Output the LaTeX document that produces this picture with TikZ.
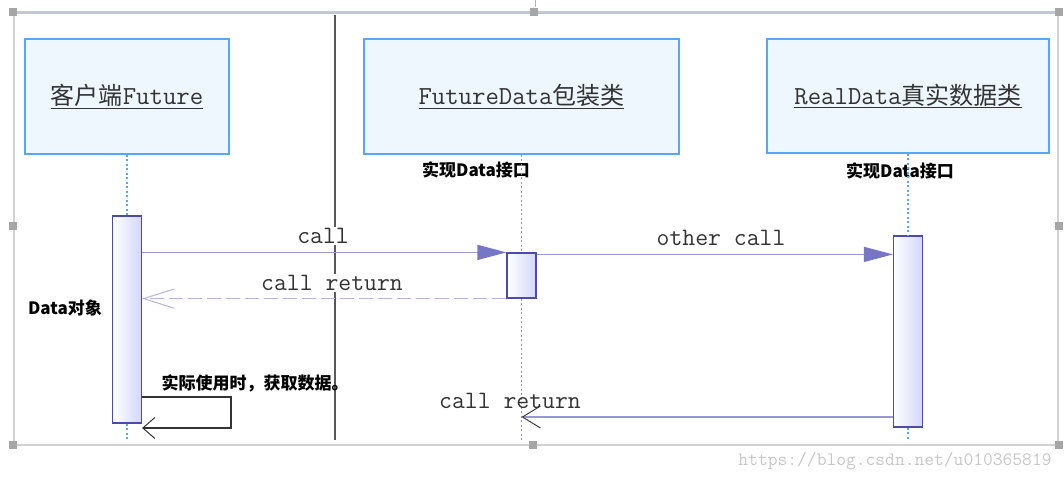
\documentclass[tikz,border=0pt]{standalone}
\usepackage{fontspec}
\newfontfamily\cjk{Noto Sans CJK SC}
\usetikzlibrary{arrows.meta, positioning}

\definecolor{boxline}{HTML}{55A8F5}
\definecolor{boxfill}{HTML}{EEF7FD}
\definecolor{barline}{HTML}{4B4BAA}
\definecolor{barfill}{HTML}{D3D6FA}
\definecolor{callline}{HTML}{9898D8}
\definecolor{headfill}{HTML}{7676C4}
\definecolor{replyline}{HTML}{B4B4E2}
\definecolor{frameline}{HTML}{D2D2D2}
\definecolor{frametop}{HTML}{C3C7CF}
\definecolor{handle}{HTML}{A6A6A6}
\definecolor{inktext}{HTML}{333333}

\newcommand{\cntitle}[1]{{\cjk\fontsize{24}{28}\selectfont #1}}

\tikzstyle{classbox} = [
    rectangle,
    draw=boxline,
    line width=1.5pt,
    fill=boxfill,
    text=inktext,
    font=\fontsize{26}{28}\selectfont\ttfamily
]
\tikzstyle{actbar} = [
    rectangle,
    draw=barline,
    line width=1.2pt,
    left color=white,
    right color=barfill,
    minimum width=29pt,
    inner sep=0pt
]
\tikzstyle{lifeline} = [
    boxline,
    line width=1.3pt,
    dash pattern=on 2pt off 2.5pt
]
\tikzstyle{call} = [
    callline,
    line width=1.5pt,
    -{Triangle[length=29pt, width=15pt, color=headfill]}
]
\tikzstyle{reply} = [
    replyline,
    line width=1.5pt,
    dash pattern=on 14pt off 5pt,
    -{Straight Barb[length=30pt, width=19pt, line width=1pt]}
]
\tikzstyle{msg} = [
    text=inktext,
    inner sep=1pt,
    font=\fontsize{25}{27}\selectfont\ttfamily
]
\tikzstyle{note} = [
    text=black,
    inner sep=0pt,
    font=\cjk\bfseries\fontsize{17}{20}\selectfont
]

\begin{document}
\begin{tikzpicture}[x=1pt, y=-1pt]
    \useasboundingbox (0,0) rectangle (1064,482);

    % window frame
    \draw[frameline, line width=1.2pt] (14,12) -- (14,445) (1058,12) -- (1058,445);
    \draw[frameline, line width=1.5pt] (13,445) -- (1059,445);
    \draw[frametop, line width=3pt] (13,12) -- (1059,12);
    \draw[orange!70, line width=1pt] (535,0) -- (535,7);
    \foreach \hx/\hy in {13/12, 534/12, 1059/12, 13/226, 1059/226, 13/445, 533/445, 1059/445}
        \fill[handle] (\hx-4,\hy-4) rectangle (\hx+4,\hy+4);
    \draw[black!65, line width=2pt] (335,15) -- (335,440);

    \node (client) [classbox, minimum width=204pt, minimum height=115pt] at (127,96.5) {\underline{\cntitle{客户端}Future}};
    \node (wrapper) [classbox, minimum width=315pt, minimum height=115pt] at (521.5,96.5) {\underline{FutureData\cntitle{包装类}}};
    \node (real) [classbox, minimum width=282pt, minimum height=114pt] at (908,96) {\underline{RealData\cntitle{真实数据类}}};

    \node (actA) [actbar, minimum height=207pt] at (127,319.5) {};
    \node (actB) [actbar, minimum height=45pt] at (521.5,275.5) {};
    \node (actC) [actbar, minimum height=191pt] at (908,331.5) {};

    \coordinate (endA) at (127,440);
    \coordinate (endB) at (521.5,440);
    \coordinate (endC) at (908,440);
    \coordinate (backB) at (521.5,417);
    \coordinate (selfA) at (231,397);
    \coordinate (selfB) at (231,428);

    \node (iface1) [note] at (476,170) {实现Data接口};
    \node (iface2) [note] at (900,171) {实现Data接口};
    \node (dataobj) [note] at (65,308) {Data对象};
    \node (usenote) [note] at (255,383) {实际使用时，获取数据。};

    % lifelines
    \draw[lifeline] (client) -- (actA);
    \draw[lifeline] (actA) -- (endA);
    \draw[lifeline] (wrapper) -- (actB);
    \draw[lifeline] (actB) -- (endB);
    \draw[lifeline] (real) -- (actC);
    \draw[lifeline] (actC) -- (endC);

    % messages
    \draw[call] (actA.east |- actB.north west) -- (actB.north west);
    \draw[reply] (actB.south west) -- (actA.east |- actB.south west);
    \draw[call] ([yshift=-2pt]actB.north east) -- ([yshift=-2pt]actB.north east -| actC.west);
    \draw[callline, line width=1.3pt, -{Straight Barb[length=18pt, width=22pt, line width=1pt, color=black!75]}] (actC.west |- backB) -- (backB);
    \draw[black!80, line width=1.2pt, -{Straight Barb[length=12pt, width=21pt, line width=1pt]}] (actA.east |- selfA) -- (selfA) -- (selfB) -- (actA.east |- selfB);

    \node (lblcall) [msg, fill=white] at (323,236) {call};
    \node (lblret) [msg, fill=white] at (332,283) {call return};
    \node (lblother) [msg] at (721,238) {other call};
    \node (lblret2) [msg] at (510,401) {call return};

    \node (mark) [text=black!22, font=\fontsize{19}{21}\selectfont\ttfamily] at (895,461) {https://blog.csdn.net/u010365819};
\end{tikzpicture}
\end{document}
